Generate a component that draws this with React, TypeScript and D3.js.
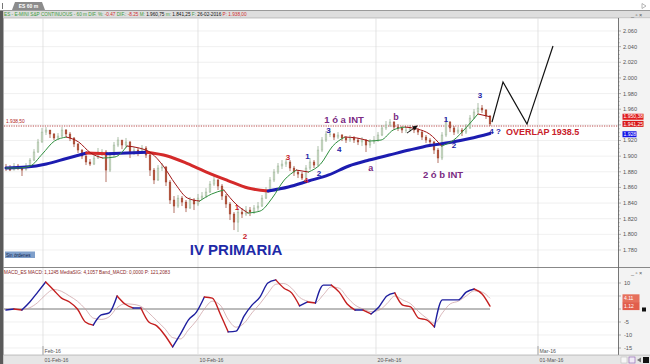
import React from 'react'
import * as d3 from 'd3'

// ES 60 m bars (open = previous close)
const closes = [
  1884.8, 1882.2, 1887.4, 1884.8, 1882.2, 1887.4, 1895, 1905.3, 1918.1, 1930.8,
  1933.4, 1928.3, 1923.2, 1925.7, 1933.4, 1928.3, 1923.2, 1915.5, 1907.8, 1900.1,
  1892.5, 1889.9, 1897.6, 1905.3, 1905.3, 1882.2, 1901.4, 1914.2, 1920.6, 1914.2,
  1918.1, 1905.3, 1907.8, 1905.3, 1910.4, 1901.4, 1882.2, 1869.5, 1884.8, 1886.1,
  1866.9, 1843.9, 1836.2, 1846.4, 1841.3, 1833.7, 1843.9, 1838.8, 1846.4, 1849,
  1854.1, 1864.3, 1869.5, 1861.8, 1849, 1838.8, 1826, 1815.7, 1828.5, 1826,
  1831.1, 1828.5, 1833.7, 1836.2, 1846.4, 1856.7, 1869.5, 1879.7, 1887.4, 1889.9,
  1892.5, 1884.8, 1879.7, 1877.1, 1872, 1884.8, 1892.5, 1888.6, 1907.8, 1920.6,
  1928.3, 1928.3, 1924.4, 1927, 1923.2, 1920.6, 1923.2, 1920.6, 1918.1, 1920.6,
  1914.2, 1918.1, 1920.6, 1927, 1936, 1939.8, 1943.6, 1937.2, 1936, 1933.4,
  1933.4, 1936, 1933.4, 1930.8, 1924.4, 1920.6, 1918.1, 1907.8, 1897.6, 1927,
  1943.6, 1936, 1930.8, 1933.4, 1930.8, 1936, 1948.7, 1956.4, 1961.5, 1959,
  1951.3, 1941.1,
]
const highs = [
  1890, 1888.6, 1891.2, 1890, 1887.4, 1891.2, 1897.6, 1909, 1922, 1936,
  1937.2, 1933.4, 1929.5, 1929.5, 1937.2, 1934.7, 1930.8, 1924.4, 1916.8, 1909,
  1901.4, 1896.3, 1901.4, 1910.4, 1909, 1907.8, 1905.3, 1918.1, 1924.4, 1920.6,
  1923.2, 1919.3, 1911.6, 1910.4, 1914.2, 1912.9, 1902.7, 1884.8, 1888.6, 1891.2,
  1887.4, 1869.5, 1849, 1850.3, 1849, 1843.9, 1847.7, 1846.4, 1851.6, 1854.1,
  1859.2, 1868.2, 1874.6, 1870.8, 1864.3, 1851.6, 1841.3, 1828.5, 1833.7, 1833.7,
  1836.2, 1835, 1837.5, 1841.3, 1850.3, 1860.5, 1873.3, 1883.5, 1891.2, 1895,
  1896.3, 1895, 1887.4, 1882.2, 1879.7, 1888.6, 1897.6, 1895, 1912.9, 1924.4,
  1932.1, 1933.4, 1929.5, 1930.8, 1928.3, 1925.7, 1927, 1925.7, 1923.2, 1924.4,
  1921.9, 1921.9, 1925.7, 1930.8, 1939.8, 1944.9, 1947.5, 1944.9, 1941.1, 1938.5,
  1937.2, 1939.8, 1938.5, 1936, 1932.1, 1927, 1923.2, 1919.3, 1910.4, 1930.8,
  1948.7, 1944.9, 1938.5, 1937.2, 1936, 1941.1, 1952.6, 1960.2, 1967.9, 1965.4,
  1960.2, 1952.6,
]
const lows = [
  1881, 1880.9, 1882.2, 1882.2, 1874.6, 1882.2, 1886.1, 1893.8, 1904, 1917,
  1927, 1923.2, 1920.6, 1920.6, 1924.4, 1924.4, 1919.3, 1911.6, 1904, 1896.3,
  1888.6, 1887.4, 1888.6, 1896.3, 1900.1, 1866.9, 1879.7, 1898.9, 1911.6, 1909,
  1910.4, 1897.6, 1901.4, 1900.1, 1902.7, 1897.6, 1874.6, 1864.3, 1868.2, 1881,
  1861.8, 1838.8, 1827.3, 1833.7, 1836.2, 1828.5, 1832.4, 1831.1, 1836.2, 1843.9,
  1846.4, 1852.9, 1861.8, 1856.7, 1843.9, 1833.7, 1818.3, 1805.5, 1803, 1820.9,
  1823.4, 1823.4, 1826, 1829.8, 1835, 1845.1, 1855.4, 1866.9, 1877.1, 1883.5,
  1886.1, 1881, 1874.6, 1872, 1869.5, 1870.8, 1882.2, 1884.8, 1886.1, 1905.3,
  1918.1, 1924.4, 1920.6, 1921.9, 1919.3, 1916.8, 1918.1, 1916.8, 1914.2, 1912.9,
  1905.3, 1910.4, 1915.5, 1918.1, 1925.7, 1933.4, 1937.2, 1933.4, 1932.1, 1929.5,
  1929.5, 1930.8, 1929.5, 1927, 1920.6, 1916.8, 1912.9, 1902.7, 1891.2, 1895,
  1924.4, 1930.8, 1927, 1928.3, 1925.7, 1928.3, 1934.7, 1947.5, 1955.2, 1955.2,
  1947.5, 1938.5,
]
const firstOpen = 1886

// moving averages, sampled evenly over the same span as the bars
const fastMa = [
  1884.8, 1884.8, 1887.4, 1902.7, 1919.3, 1924.4, 1918.1, 1904, 1897.6, 1898.9,
  1912.9, 1910.4, 1904, 1887.4, 1864.3, 1846.4, 1842.6, 1851.6, 1856.7, 1838.8,
  1827.3, 1829.8, 1846.4, 1869.5, 1882.2, 1879.7, 1889.9, 1912.9, 1924.4, 1923.2,
  1919.3, 1920.6, 1933.4, 1937.2, 1934.7, 1928.3, 1912.9, 1920.6, 1936, 1953.9,
  1950.4,
]
const slowMa = [
  1884.8, 1886, 1890, 1897, 1904, 1903, 1904, 1905, 1900.2, 1890.5,
  1879, 1868.8, 1859.2, 1855.4, 1860.5, 1868.2, 1876, 1887.4, 1895, 1901.4,
  1907.8, 1913.6, 1917.4, 1922.5, 1929,
]

// MACD panel
const macd = [
  -0.4, 0, -0.4, 2.7, 6.5, 10.4, 7.3, 4.2, 2.7, 0, -5, -6.2, -2.3, -1.5, 5, 1.9,
  0.4, 0.4, -5, -6.5, -10, -14.6, -9.6, -4.2, -1.2, 4.6, 4.2, -1.9, -8.8, -8.5, -2.7, 1.5,
  4.6, 10, 11.2, 8.1, 6.2, 1.2, 2.7, 2.3, 9.2, 9.2, 6.5, 1.9, -0.4, -0.4, -1.9, 0.8,
  5, 6.2, 1.5, 0.8, -3.5, -4.2, -6.9, 3.5, 3.5, 3.5, 6.5, 7.7, 5.8, 1.12,
]
const macdSignal = [
  0, -0.2, -0.2, 0.5, 2.5, 5.5, 7.5, 6.8, 5, 3, 0, -3.5, -4, -3, 0.5, 2,
  1.8, 1, -1.5, -4.5, -7.5, -11, -11.5, -8, -4.5, 0, 3, 1.5, -4, -7, -5.5, -1.5,
  2, 6, 9.5, 9.8, 8, 4.5, 3, 2.5, 5.5, 8.5, 8, 4.5, 1.5, 0, -1, -0.5,
  2, 5, 3.5, 2, -1, -3.5, -5.5, -1.5, 2, 3, 5, 7, 6.5, 4.11,
]

const priceTicks = [2060, 2040, 2020, 2000, 1980, 1960, 1940, 1920, 1900, 1880, 1860, 1840, 1820, 1800, 1780]
const hiddenPriceLabels = [1940] // covered by the last-value boxes
const macdTicks = [10, 5, 0, -5, -10, -15]
const hiddenMacdLabels = [5, 0]
const dateLabels = ['01-Feb-16', '10-Feb-16', '20-Feb-16', '01-Mar-16']
const dateBars = [9.25, 48, 92.5, 133]
const monthLabels = ['Feb-16', 'Mar-16']
const monthBars = [9.25, 133]

// hand-drawn projection and levels
const projBars = [121.5, 124.25, 130.25, 136.75]
const projPrices = [1943.6, 1994.8, 1941, 2040.8]
const overlapLevel = 1938.5
const lastFast = 1950.38
const lastPrice = 1941.25
const lastSlow = 1928

const RED = '#c8202a'
const BLUE = '#2323a6'
const PURPLE = '#7a2a82'

type Note = { text: string; bar: number; price: number; color: string; size: number; anchor?: 'start' | 'middle' }
const notes: Note[] = [
  { text: '2', bar: 59.75, price: 1797.8, color: RED, size: 8 },
  { text: '1', bar: 57.75, price: 1834.9, color: RED, size: 8 },
  { text: '3', bar: 70.5, price: 1898.9, color: RED, size: 8 },
  { text: '4', bar: 75, price: 1869.5, color: RED, size: 8 },
  { text: '1', bar: 75.4, price: 1900.1, color: BLUE, size: 8 },
  { text: '2', bar: 78.25, price: 1878, color: BLUE, size: 8 },
  { text: '3', bar: 80.6, price: 1933.4, color: BLUE, size: 8 },
  { text: '4', bar: 83.3, price: 1908.7, color: BLUE, size: 8 },
  { text: 'a', bar: 91.2, price: 1884.4, color: PURPLE, size: 9 },
  { text: '1 ó a INT', bar: 84.5, price: 1946, color: PURPLE, size: 9.5 },
  { text: 'b', bar: 97.5, price: 1950, color: PURPLE, size: 9 },
  { text: '1', bar: 110, price: 1947.5, color: BLUE, size: 8 },
  { text: '2', bar: 112, price: 1914.2, color: BLUE, size: 8 },
  { text: '2 ó b INT', bar: 109.25, price: 1876.7, color: PURPLE, size: 9.5 },
  { text: '3', bar: 118.5, price: 1978.2, color: BLUE, size: 8 },
  { text: '4 ?', bar: 122.25, price: 1932.1, color: BLUE, size: 8 },
  { text: 'OVERLAP  1938.5', bar: 125, price: 1930.6, color: RED, size: 9, anchor: 'start' },
  { text: 'IV PRIMARIA', bar: 57.5, price: 1780, color: '#1e2aa8', size: 15 },
]

const W = 650
const H = 364
const plotL = 4
const plotR = 618
const mainTop = 18
const mainBot = 267
const macdTop = 268
const macdBot = 354
const FONT = "'Liberation Sans', Arial, sans-serif"

function fmtPrice(v: number) {
  return `${Math.floor(v / 1000)}.${String(v % 1000).padStart(3, '0')}`
}

// split a series into rising / falling runs
function runs(vals: number[]) {
  const out: { up: boolean; idx: number[] }[] = []
  for (let i = 1; i < vals.length; i++) {
    const up = vals[i] >= vals[i - 1]
    const last = out[out.length - 1]
    if (last && last.up === up) last.idx.push(i)
    else out.push({ up, idx: [i - 1, i] })
  }
  return out
}

function ColoredLine({ vals, xs, ys, up, down, width }: {
  vals: number[]; xs: (i: number) => number; ys: (v: number) => number; up: string; down: string; width: number
}) {
  const line = d3.line<number>().x((i) => xs(i)).y((i) => ys(vals[i])).curve(d3.curveMonotoneX)
  return (
    <g>
      {runs(vals).map((r, k) => (
        <path key={k} d={line(r.idx) || ''} fill="none" stroke={r.up ? up : down} strokeWidth={width}
          strokeLinejoin="round" strokeLinecap="round" />
      ))}
    </g>
  )
}

export default function App() {
  const n = closes.length
  const x = d3.scaleLinear().domain([0, n - 1]).range([6, 490])
  const y = d3.scaleLinear().domain([1780, 2060]).range([250, 31])
  const ym = d3.scaleLinear().domain([-15, 10]).range([348, 283])
  const xFast = d3.scaleLinear().domain([0, fastMa.length - 1]).range([x(0), x(n - 1)])
  const xSlow = d3.scaleLinear().domain([0, slowMa.length - 1]).range([x(0), x(n - 1)])
  const xMacd = d3.scaleLinear().domain([0, macd.length - 1]).range([x(0), x(n - 1)])
  const bodyW = 1.8

  const signalLine = d3.line<number>().x((_, i) => xMacd(i)).y((v) => ym(v)).curve(d3.curveMonotoneX)
  const projLine = d3.line<number>().x((b) => x(b)).y((_, i) => y(projPrices[i]))

  const minorPrice = d3.range(1780, 2061, 5)
  const axisX = plotR

  return (
    <div style={{ width: W, height: H }}>
      <style>{'body{margin:0}'}</style>
      <svg width={W} height={H} style={{ display: 'block', fontFamily: FONT }}>
        <defs>
          <clipPath id="mainClip"><rect x={plotL} y={mainTop} width={plotR - plotL} height={mainBot - mainTop} /></clipPath>
          <marker id="arr" viewBox="0 0 6 6" refX="5" refY="3" markerWidth="5" markerHeight="5" orient="auto">
            <path d="M0,0 L6,3 L0,6 z" fill="#111" />
          </marker>
        </defs>
        <rect width={W} height={H} fill="#fff" />

        {/* top tab strip */}
        <line x1={0} x2={W} y1={10.5} y2={10.5} stroke="#9a9a9a" />
        <line x1={2.5} x2={2.5} y1={3} y2={9} stroke="#777" />
        <path d="M12,10 L15,2 L42,2 L45,10 z" fill="#8c8c8c" />
        <text x={28.5} y={8} fontSize={5} fill="#fff" fontWeight={700} textAnchor="middle">ES 60 m</text>
        <path d="M642,3.5 L646,6 L642,8.5 z" fill="none" stroke="#888" strokeWidth={0.6} />

        {/* window frame */}
        <rect x={0} y={11} width={3.5} height={H - 11} fill="#5a5a5a" />
        <rect x={3.5} y={11} width={W - 3.5} height={7} fill="#dedede" />
        <line x1={3.5} x2={W} y1={18} y2={18} stroke="#a0a0a0" strokeWidth={0.6} />
        <text x={4} y={16.2} fontSize={4.7}>
          <tspan fill="#3c9a3c">ES - E-MINI S&amp;P CONTINUOUS - 60 m DIF. %: </tspan>
          <tspan fill="#d03030">-0.47 </tspan>
          <tspan fill="#3c9a3c">DIF.: </tspan>
          <tspan fill="#d03030">-8.25 </tspan>
          <tspan fill="#3c9a3c">M: </tspan>
          <tspan fill="#111">1.960,75 </tspan>
          <tspan fill="#3c9a3c">m: </tspan>
          <tspan fill="#111">1.841,25 </tspan>
          <tspan fill="#3c9a3c">F: </tspan>
          <tspan fill="#111">26-02-2016 </tspan>
          <tspan fill="#d03030">P: 1.938,00</tspan>
        </text>
        <text x={631} y={16.8} fontSize={5.5} fill="#555">_ ▫ ×</text>

        {/* axis panels */}
        <rect x={axisX} y={18.5} width={W - axisX} height={mainBot - 18.5} fill="#f3f3f3" />
        <rect x={axisX} y={macdTop} width={W - axisX} height={macdBot - macdTop} fill="#f3f3f3" />
        <line x1={axisX + 0.5} x2={axisX + 0.5} y1={18} y2={macdBot + 1} stroke="#555" strokeWidth={0.8} />

        {/* grid */}
        {priceTicks.map((t) => (
          <line key={t} x1={plotL} x2={plotR} y1={y(t)} y2={y(t)} stroke="#e6e6e6" strokeWidth={0.6} />
        ))}
        {macdTicks.filter((t) => t !== 0).map((t) => (
          <line key={t} x1={plotL} x2={plotR} y1={ym(t)} y2={ym(t)} stroke="#e6e6e6" strokeWidth={0.6} />
        ))}
        {dateBars.map((b) => (
          <line key={b} x1={x(b)} x2={x(b)} y1={mainTop} y2={macdBot} stroke="#d8d8d8" strokeWidth={0.7} />
        ))}

        {/* price axis */}
        {minorPrice.map((t) => (
          <line key={t} x1={axisX} x2={axisX + (t % 20 === 0 ? 3 : 1.6)} y1={y(t)} y2={y(t)} stroke="#666" strokeWidth={0.5} />
        ))}
        {priceTicks.filter((t) => !hiddenPriceLabels.includes(t)).map((t) => (
          <text key={t} x={axisX + 5} y={y(t)} dy="0.35em" fontSize={5.6} fill="#555">{fmtPrice(t)}</text>
        ))}

        {/* overlap level */}
        <line x1={plotL} x2={plotR} y1={y(overlapLevel)} y2={y(overlapLevel)} stroke="#a81c1c" strokeWidth={0.8}
          strokeDasharray="1.2,1.2" />
        <text x={6} y={y(overlapLevel) - 3} fontSize={4.8} fill="#b02020">1.938,50</text>

        <g clipPath="url(#mainClip)">
          {/* candles */}
          {closes.map((c, i) => {
            const o = i === 0 ? firstOpen : closes[i - 1]
            const hi = Math.max(highs[i], o, c)
            const lo = Math.min(lows[i], o, c)
            const up = c >= o
            const top = y(Math.max(o, c))
            const h = Math.max(0.8, y(Math.min(o, c)) - top)
            return (
              <g key={i}>
                <line x1={x(i)} x2={x(i)} y1={y(hi)} y2={y(lo)} stroke={up ? '#8aa585' : '#94341f'} strokeWidth={0.7} />
                <rect x={x(i) - bodyW / 2} y={top} width={bodyW} height={h}
                  fill={up ? '#d3e2cf' : '#b65a43'} stroke={up ? '#8aa585' : '#94341f'} strokeWidth={0.35} />
              </g>
            )
          })}

          <ColoredLine vals={slowMa} xs={xSlow} ys={y} up="#1c1cb0" down="#d42a2a" width={3} />
          <ColoredLine vals={fastMa} xs={xFast} ys={y} up="#2f8f3f" down="#a01414" width={1} />

          {/* projection zig-zag */}
          <path d={projLine(projBars) || ''} fill="none" stroke="#111" strokeWidth={1.2} />
          <line x1={x(100.25)} y1={y(1929.5)} x2={x(102.75)} y2={y(1938.5)} stroke="#111" strokeWidth={1}
            markerEnd="url(#arr)" />

          {notes.map((nt, i) => (
            <text key={i} x={x(nt.bar)} y={y(nt.price)} dy="0.35em" fontSize={nt.size} fontWeight={700}
              fill={nt.color} textAnchor={nt.anchor || 'middle'}>{nt.text}</text>
          ))}
        </g>

        {/* last-value boxes */}
        <rect x={axisX + 4.5} y={y(lastFast) - 3} width={21} height={6} fill="#e01c1c" />
        <text x={axisX + 5.5} y={y(lastFast)} dy="0.35em" fontSize={5} fill="#fff">1.950,38</text>
        <rect x={axisX + 4.5} y={y(lastPrice) - 3} width={21} height={6} fill="#d81818" />
        <text x={axisX + 5.5} y={y(lastPrice)} dy="0.35em" fontSize={5} fill="#fff">1.941,25</text>
        <rect x={axisX + 4.5} y={y(lastSlow) - 3} width={14} height={6} fill="#1414e6" />
        <text x={axisX + 5.5} y={y(lastSlow)} dy="0.35em" fontSize={5} fill="#fff">1.928</text>

        {/* Sin órdenes */}
        <rect x={5} y={251.5} width={30} height={6.5} fill="#7f9fca" />
        <text x={6} y={256.6} fontSize={4.6} fill="#10224a">Sin órdenes</text>

        {/* MACD panel */}
        <line x1={3.5} x2={W} y1={macdTop - 0.5} y2={macdTop - 0.5} stroke="#6a6a6a" strokeWidth={0.8} />
        <text x={4} y={273.6} fontSize={5} fill="#8b1f1f" textLength={166} lengthAdjust="spacingAndGlyphs">
          MACD_ES MACD: 1,1245 MediaSIG: 4,1057 Band_MACD: 0,0000 P: 121,2083
        </text>
        <text x={631} y={274.5} fontSize={5.5} fill="#555">_ ▫ ×</text>
        <line x1={plotL} x2={x(n - 1)} y1={ym(0)} y2={ym(0)} stroke="#555" strokeWidth={0.8} />
        <path d={signalLine(macdSignal) || ''} fill="none" stroke="#c99a9e" strokeWidth={0.7} />
        <ColoredLine vals={macd} xs={xMacd} ys={ym} up="#1e1e9e" down="#c41e1e" width={1.4} />

        {macdTicks.map((t) => (
          <g key={t}>
            <line x1={axisX} x2={axisX + 3} y1={ym(t)} y2={ym(t)} stroke="#666" strokeWidth={0.5} />
            {!hiddenMacdLabels.includes(t) && (
              <text x={axisX + 6} y={ym(t)} dy="0.35em" fontSize={5.6} fill="#555">{t}</text>
            )}
          </g>
        ))}
        <rect x={axisX + 4.5} y={ym(macdSignal[macdSignal.length - 1]) - 4} width={17} height={8} fill="#e6705c" />
        <text x={axisX + 6} y={ym(macdSignal[macdSignal.length - 1])} dy="0.35em" fontSize={5} fill="#fff">4.11</text>
        <rect x={axisX + 4.5} y={ym(macd[macd.length - 1]) - 4} width={17} height={8} fill="#e25e4c" />
        <text x={axisX + 6} y={ym(macd[macd.length - 1])} dy="0.35em" fontSize={5} fill="#fff">1.12</text>
        <rect x={axisX + 24} y={ym(0) - 1.5} width={4} height={4} fill="#111" />

        {/* time axis */}
        {monthBars.map((b, i) => (
          <g key={b}>
            <line x1={x(b)} x2={x(b)} y1={346} y2={356} stroke="#777" strokeWidth={0.6} />
            <text x={x(b) + 1.5} y={352.5} fontSize={5.2} fill="#555">{monthLabels[i]}</text>
          </g>
        ))}
        <rect x={3.5} y={355} width={W - 3.5} height={H - 355} fill="#e6e6e6" />
        <line x1={3.5} x2={W} y1={355} y2={355} stroke="#9a9a9a" strokeWidth={0.6} />
        {dateBars.map((b, i) => (
          <text key={b} x={x(b) + 1.5} y={361.5} fontSize={5.2} fill="#555">{dateLabels[i]}</text>
        ))}
        <rect x={621} y={357} width={6} height={6} fill="#f6f6f6" stroke="#aaa" strokeWidth={0.4} />
        <rect x={629} y={357} width={6} height={6} fill="#f0eaf6" stroke="#8a5ab0" strokeWidth={0.6} />
        <path d="M637,360 L641,357.5 L641,362.5 z" fill="#777" />
        <rect x={643} y={357} width={6} height={6} fill="#111" />
      </svg>
    </div>
  )
}
